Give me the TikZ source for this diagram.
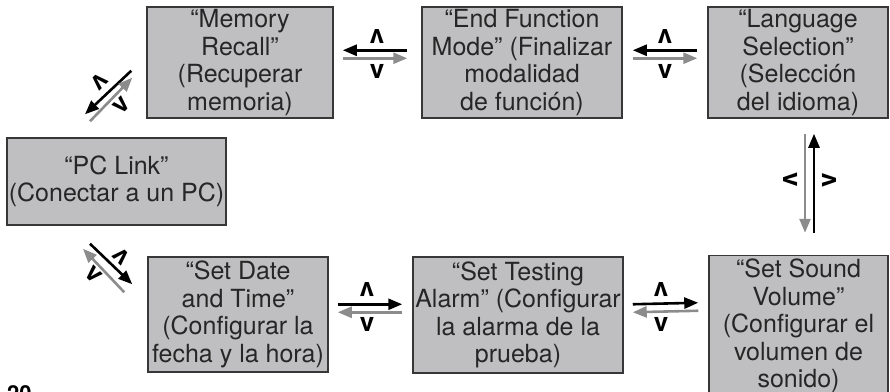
\documentclass[tikz,border=0pt]{standalone}
\usepackage{fontspec}
\setmainfont{TeX Gyre Heros}
\usepackage{tikz}
\usetikzlibrary{calc,arrows.meta}
\definecolor{boxgray}{RGB}{191,191,193}
\definecolor{arrgray}{RGB}{140,140,140}
\definecolor{edgegray}{RGB}{55,55,55}

\begin{document}
\begin{tikzpicture}[x=1pt, y=-1pt,
  menubox/.style={draw=edgegray, line width=1.5pt, fill=boxgray, inner sep=0pt,
    align=center, text=black!85, font=\fontsize{25}{27.5}\selectfont},
  blkarrow/.style={line width=2.6pt, -{Triangle[length=14pt,width=11pt]}},
  grayarrow/.style={blkarrow, arrgray},
  chev/.style={font=\bfseries\fontsize{26}{26}\selectfont, inner sep=0pt}]

  \useasboundingbox (0,0) rectangle (890,391);

  % ---- menu boxes, top row ----
  \node[menubox, minimum width=186pt, minimum height=111pt] (mem) at (240,62.5)
    {“Memory\\Recall”\\(Recuperar\\memoria)};
  \node[menubox, minimum width=200pt, minimum height=111pt] (endf) at (522,62.5)
    {“End Function\\Mode” (Finalizar\\modalidad\\de función)};
  \node[menubox, minimum width=180pt, minimum height=111pt] (lang) at (798,62.5)
    {“Language\\Selection”\\(Selección\\del idioma)};
  % ---- left box ----
  \node[menubox, minimum width=219pt, minimum height=87pt] (pc) at (116.5,181.5)
    {“PC Link”\\(Conectar a un PC)};
  % ---- menu boxes, bottom row ----
  \node[menubox, minimum width=180pt, minimum height=115pt] (date) at (238,314.5)
    {“Set Date\\and Time”\\(Configurar la\\fecha y la hora)};
  \node[menubox, minimum width=210pt, minimum height=116pt] (alarm) at (518,315)
    {“Set Testing\\Alarm” (Configurar\\la alarma de la\\prueba)};
  \node[menubox, minimum width=179pt, minimum height=141pt] (sound) at (798.5,326)
    {“Set Sound\\Volume”\\(Configurar el\\volumen de\\sonido)};

  % ---- top row arrows ----
  \draw[blkarrow] ($(endf.north west)+(-14,44)$) -- ($(mem.north east)+(9,44)$);
  \draw[grayarrow] ($(mem.north east)+(9,52)$) -- ($(endf.north west)+(-14,52)$);
  \node[chev, rotate=180] (c1u) at (377,37) {v};
  \node[chev] (c1d) at (377,71) {v};

  \draw[blkarrow] ($(lang.north west)+(-10,44)$) -- ($(endf.north east)+(10,44)$);
  \draw[grayarrow] ($(endf.north east)+(10,52)$) -- ($(lang.north west)+(-10,52)$);
  \node[chev, rotate=180] (c2u) at (665,37) {v};
  \node[chev] (c2d) at (665,71) {v};

  % ---- right column arrows ----
  \draw[blkarrow] ($(sound.north)+(15.5,-22)$) -- ($(lang.south)+(16,15)$);
  \draw[grayarrow] ($(lang.south)+(7,15)$) -- ($(sound.north)+(6.5,-22)$);
  \node[chev, rotate=-90] (c3l) at (791,180) {v};
  \node[chev, rotate=90] (c3r) at (829,180) {v};

  % ---- bottom row arrows ----
  \draw[blkarrow] ($(date.north east)+(9,48)$) -- ($(alarm.north west)+(-10,48)$);
  \draw[grayarrow] ($(alarm.north west)+(-10,56)$) -- ($(date.north east)+(9,56)$);
  \node[chev, rotate=180] (c4u) at (367,290) {v};
  \node[chev] (c4d) at (367,324) {v};

  \draw[blkarrow] ($(alarm.north east)+(9,48)$) -- ($(sound.north west)+(-10,48)$);
  \draw[grayarrow] ($(sound.north west)+(-10,56)$) -- ($(alarm.north east)+(9,56)$);
  \node[chev, rotate=180] (c5u) at (661,290) {v};
  \node[chev] (c5d) at (661,324) {v};

  % ---- diagonal arrows at PC Link ----
  \draw[blkarrow] ($(mem.south west)+(-15,-48)$) -- ($(pc.north)+(-31.5,-23)$);
  \draw[grayarrow] ($(pc.north)+(-26.5,-16)$) -- ($(mem.south west)+(-14,-41)$);
  \node[chev, rotate=-135] (c6a) at (99,82) {v};
  \node[chev, rotate=45] (c6b) at (122,105) {v};

  \draw[blkarrow] ($(pc.south)+(-26.5,18)$) -- ($(date.north west)+(-15,28)$);
  \draw[grayarrow] ($(date.north west)+(-23,36)$) -- ($(pc.south)+(-33.5,23)$);
  \node[chev, rotate=135] (c7a) at (121,256) {v};
  \node[chev, rotate=-45] (c7b) at (94,275) {v};

  % page number, cut at the bottom
  \node[font=\bfseries\fontsize{22}{22}\selectfont, anchor=north west, inner sep=0pt] (pgnum) at (7,385) {20};

\end{tikzpicture}
\end{document}
